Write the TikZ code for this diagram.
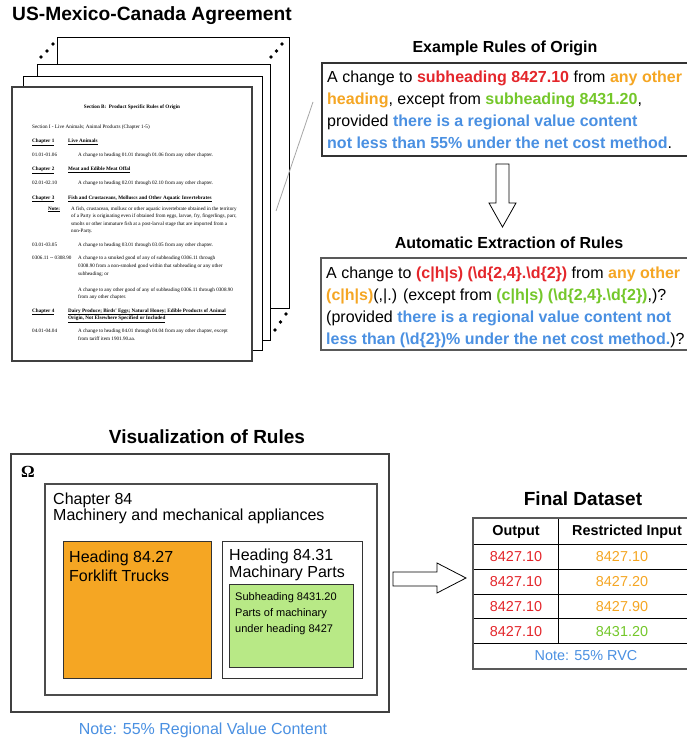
\documentclass[tikz,border=0pt]{standalone}
\usepackage{fontspec}
\setmainfont{Liberation Sans}
\newfontfamily\docfont{Liberation Serif}
\definecolor{cred}{HTML}{E4262B}
\definecolor{corg}{HTML}{F5A623}
\definecolor{cgrn}{HTML}{74C72A}
\definecolor{cblu}{HTML}{4A90E2}
\definecolor{ofill}{HTML}{F5A623}
\definecolor{gfill}{HTML}{B8E986}
\newcommand\xred[1]{{\color{cred}\bfseries #1}}
\newcommand\xorg[1]{{\color{corg}\bfseries #1}}
\newcommand\xgrn[1]{{\color{cgrn}\bfseries #1}}
\newcommand\xblu[1]{{\color{cblu}\bfseries #1}}
\newcommand\bsl{\textbackslash}
\begin{document}
\begin{tikzpicture}[x=1pt,y=-1pt,
  page/.style={draw=black,line width=0.9pt,fill=white,anchor=north west,inner sep=0,outer sep=0},
  box/.style={anchor=north west,inner sep=0,outer sep=0},
  doc/.style={font=\docfont\fontsize{5.15}{6}\selectfont,anchor=base west,inner sep=0},
  docb/.style={doc,font=\docfont\bfseries\fontsize{5.15}{6}\selectfont},
  txt/.style={font=\fontsize{16}{19}\selectfont,anchor=base west,inner sep=0},
  ttl/.style={font=\bfseries\fontsize{16}{19}\selectfont,inner sep=0},
  bigttl/.style={font=\bfseries\fontsize{19.2}{22}\selectfont,inner sep=0},
  small/.style={font=\fontsize{11}{13}\selectfont,anchor=base west,inner sep=0},
  cell/.style={font=\fontsize{14.4}{17}\selectfont,inner sep=0},
  hcell/.style={font=\bfseries\fontsize{14.4}{17}\selectfont,inner sep=0},
  dot/.style={circle,fill=black,inner sep=0,minimum size=3.8pt},
  blockarrow/.style={draw=black,line width=0.8pt,fill=white,line join=miter}
]
\useasboundingbox (0,0) rectangle (686,738);
\fill[white] (0,0) rectangle (686,738);

% ---------- main title ----------
\node[bigttl] (title) at (152,16) {US-Mexico-Canada Agreement};

% ---------- stack of pages ----------
\node[page,minimum width=232,minimum height=271] (pA) at (57,37) {};
\node[page,minimum width=233,minimum height=276] (pB) at (37,64) {};
\node[page,minimum width=239,minimum height=274] (pC) at (23,76) {};
\node[page,draw=black!75,line width=1.3pt,minimum width=240,minimum height=274] (pD) at (12,87) {};

\node[dot] (d1) at (41,57) {};
\node[dot] (d2) at (47,51) {};
\node[dot] (d3) at (53,44) {};
\node[dot] (d4) at (271,57) {};
\node[dot] (d5) at (276.5,51) {};
\node[dot] (d6) at (282,44) {};
\node[dot] (d7) at (275,330) {};
\node[dot] (d8) at (280.5,322) {};
\node[dot] (d9) at (286,314) {};

% page text
\node[docb,anchor=base] (t0) at (132,109) {Section B:\ \ Product Specific Rules of Origin};
\node[doc] (t1) at (32,129) {Section I - Live Animals; Animal Products (Chapter 1-5)};
\node[docb] (c1) at (32,143) {\underline{Chapter 1}};
\node[docb] (c1t) at (68,143) {\underline{Live Animals}};
\node[doc] (r1) at (32,157) {01.01-01.06};
\node[doc] (r1t) at (78,157) {A change to heading 01.01 through 01.06 from any other chapter.};
\node[docb] (c2) at (32,171) {\underline{Chapter 2}};
\node[docb] (c2t) at (68,171) {\underline{Meat and Edible Meat Offal}};
\node[doc] (r2) at (32,185) {02.01-02.10};
\node[doc] (r2t) at (78,185) {A change to heading 02.01 through 02.10 from any other chapter.};
\node[docb] (c3) at (32,199) {\underline{Chapter 3}};
\node[docb] (c3t) at (68,199) {\underline{Fish and Crustaceans, Molluscs and Other Aquatic Invertebrates}};
\node[docb] (nt) at (48,210) {\underline{Note:}};
\node[doc] (n1) at (71,210) {A fish, crustacean, mollusc or other aquatic invertebrate obtained in the territory};
\node[doc] (n2) at (71,217.5) {of a Party is originating even if obtained from eggs, larvae, fry, fingerlings, parr,};
\node[doc] (n3) at (71,225) {smolts or other immature fish at a post-larval stage that are imported from a};
\node[doc] (n4) at (71,232.5) {non-Party.};
\node[doc] (r3) at (32,246) {03.01-03.05};
\node[doc] (r3t) at (78,246) {A change to heading 03.01 through 03.05 from any other chapter.};
\node[doc] (r4) at (32,259) {0306.11 -- 0308.90};
\node[doc] (r4a) at (78,259) {A change to a smoked good of any of subheading 0306.11 through};
\node[doc] (r4b) at (78,267) {0308.90 from a non-smoked good within that subheading or any other};
\node[doc] (r4c) at (78,275) {subheading; or};
\node[doc] (r4d) at (78,291) {A change to any other good of any of subheading 0306.11 through 0308.90};
\node[doc] (r4e) at (78,298.5) {from any other chapter.};
\node[docb] (c4) at (32,312) {\underline{Chapter 4}};
\node[docb] (c4a) at (68,312) {\underline{Dairy Produce; Birds' Eggs; Natural Honey; Edible Products of Animal}};
\node[docb] (c4b) at (68,319.5) {\underline{Origin, Not Elsewhere Specified or Included}};
\node[doc] (r5) at (32,332) {04.01-04.04};
\node[doc] (r5a) at (78,332) {A change to heading 04.01 through 04.04 from any other chapter, except};
\node[doc] (r5b) at (78,340) {from tariff item 1901.90.aa.};

% gray pointer line
\coordinate (gl1) at (276,211);
\coordinate (gl2) at (313,102);
\draw[black!35,line width=0.8pt] (gl1) -- (gl2);

% ---------- example rules ----------
\node[ttl] (exttl) at (505,48) {Example Rules of Origin};
\node[box,draw=black!80,line width=1.2pt,minimum width=390,minimum height=93] (ex) at (322,63) {};
\node[txt] (ex1) at (327,83) {A change to \xred{subheading 8427.10} from \xorg{any other}};
\node[txt] (ex2) at (327,105) {\xorg{heading}, except from \xgrn{subheading 8431.20},};
\node[txt] (ex3) at (327,127) {provided \xblu{there is a regional value content}};
\node[txt] (ex4) at (327,149) {\xblu{not less than 55\% under the net cost method}.};

% down arrow
\coordinate (da0) at (502.5,164);
\draw[blockarrow] (496,164) -- (509,164) -- (509,203) -- (516,203) -- (502.5,227) -- (489,203) -- (496,203) -- cycle;

% ---------- automatic extraction ----------
\node[ttl] (auttl) at (509,243) {Automatic Extraction of Rules};
\node[box,draw=black!65,line width=1.5pt,minimum width=390,minimum height=92] (au) at (321,258) {};
\node[txt] (au1) at (326,278) {A change to \xred{(c|h|s) (\bsl d\{2,4\}.\bsl d\{2\})} from \xorg{any other}};
\node[txt] (au2) at (326,300) {\xorg{(c|h|s)}(,|.) (except from \xgrn{(c|h|s) (\bsl d\{2,4\}.\bsl d\{2\})},)?};
\node[txt] (au3) at (326,322) {(provided \xblu{there is a regional value content not}};
\node[txt] (au4) at (326,344) {\xblu{less than (\bsl d\{2\})\% under the net cost method.})?};

% ---------- visualization ----------
\node[bigttl,font=\bfseries\fontsize{19}{22}\selectfont] (vttl) at (207,437) {Visualization of Rules};
\node[box,draw=black!75,line width=1.3pt,minimum width=378,minimum height=258] (om) at (11,454) {};
\node[inner sep=0,font=\docfont\bfseries\fontsize{17}{20}\selectfont] (omg) at (28,472) {Ω};
\node[box,draw=black!70,line width=1.3pt,minimum width=332,minimum height=211] (ch) at (45,484) {};
\node[txt] (ch1) at (53,504) {Chapter 84};
\node[txt] (ch2) at (53,520) {Machinery and mechanical appliances};
\node[box,draw=black!80,line width=1pt,fill=ofill,minimum width=148,minimum height=137] (h27) at (63,541) {};
\node[txt] (h27a) at (69,562) {Heading 84.27};
\node[txt] (h27b) at (69,581) {Forklift Trucks};
\node[box,draw=black!80,line width=1pt,minimum width=140,minimum height=137] (h31) at (222,541) {};
\node[txt] (h31a) at (229,560) {Heading 84.31};
\node[txt] (h31b) at (229,577.5) {Machinary Parts};
\node[box,draw=black!80,line width=1pt,fill=gfill,minimum width=124,minimum height=83] (s20) at (229,584) {};
\node[small] (s20a) at (235,600.7) {Subheading 8431.20};
\node[small] (s20b) at (235,616.7) {Parts of machinary};
\node[small] (s20c) at (235,632.3) {under heading 8427};
\node[font=\fontsize{16}{19}\selectfont,text=cblu,inner sep=0] (vnote) at (203,730) {Note: 55\% Regional Value Content};

% right arrow
\draw[blockarrow] (393,572) -- (437,572) -- (437,563) -- (466,578) -- (437,593) -- (437,586) -- (393,586) -- cycle;

% ---------- final dataset ----------
\node[bigttl,font=\bfseries\fontsize{19}{22}\selectfont] (fttl) at (583,499) {Final Dataset};
\node[box,minimum width=227,minimum height=151] (tab) at (473,518) {};
\coordinate (tl) at (473,518);
\coordinate (br) at (700,669);
\foreach \yy in {544,569,594,618,643} \draw[black,line width=0.8pt] (473,\yy) -- (700,\yy);
\draw[black,line width=0.8pt] (558,518) -- (558,643);
\draw[black!65,line width=1.5pt] (tl) rectangle (br);
\node[hcell] (hd1) at (516,532) {Output};
\node[hcell] (hd2) at (627,532) {Restricted Input};
\node[cell,text=cred] (o1) at (516,557) {8427.10};
\node[cell,text=cred] (o2) at (516,582) {8427.10};
\node[cell,text=cred] (o3) at (516,607) {8427.10};
\node[cell,text=cred] (o4) at (516,631.5) {8427.10};
\node[cell,text=corg] (i1) at (622,557) {8427.10};
\node[cell,text=corg] (i2) at (622,582) {8427.20};
\node[cell,text=corg] (i3) at (622,607) {8427.90};
\node[cell,text=cgrn] (i4) at (622,631.5) {8431.20};
\node[cell,text=cblu] (tnote) at (586,656) {Note: 55\% RVC};
\end{tikzpicture}
\end{document}
